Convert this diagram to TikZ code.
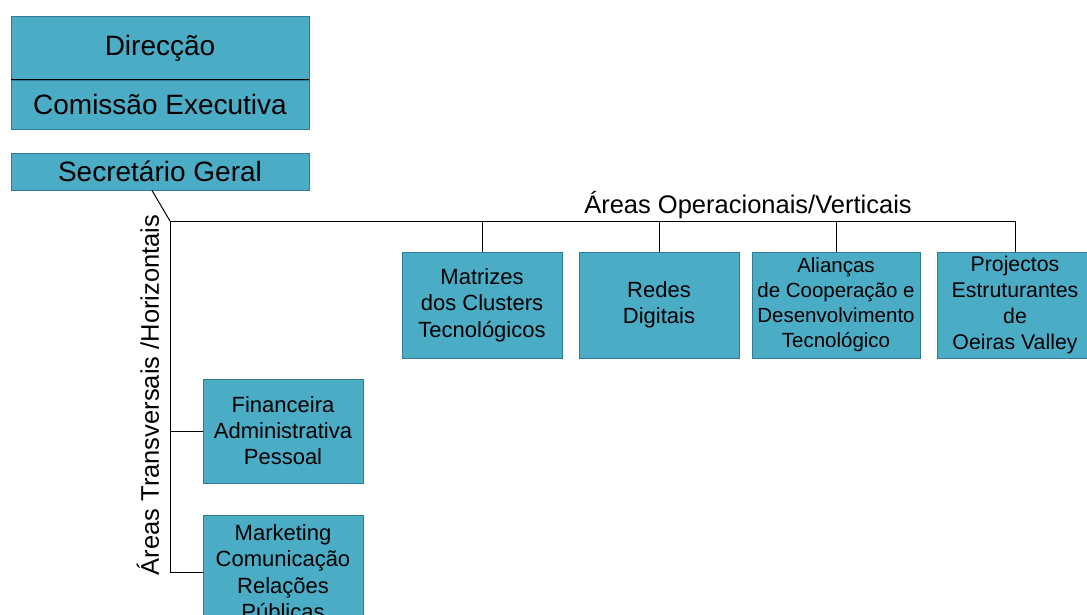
\documentclass[tikz,border=0pt]{standalone}
\usepackage{fontspec}
\setmainfont{Liberation Sans}
\definecolor{boxfill}{HTML}{4BACC6}
\definecolor{boxline}{HTML}{2E7D92}
\begin{document}
\begin{tikzpicture}[x=1pt,y=-1pt,
  orgbox/.style={draw=boxline,fill=boxfill,line width=0.9pt,inner sep=0pt,align=center,text=black},
  conn/.style={draw=black,line width=1pt}]
\useasboundingbox (0,0) rectangle (1087,614);
\clip (0,0) rectangle (1087,614);
% top boxes
\node[orgbox,minimum width=298,minimum height=64,font=\fontsize{28}{32}\selectfont] (dir) at (160,48) {Direcção};
\node[orgbox,minimum width=298,minimum height=49,font=\fontsize{28}{32}\selectfont] (com) at (160,104.5) {Comissão Executiva};
\draw[line width=1.8pt,black] (com.north west) -- (com.north east);
\node[orgbox,minimum width=298,minimum height=37,font=\fontsize{28}{32}\selectfont] (sg) at (160,171.5) {Secretário Geral};
% operational boxes
\node[orgbox,minimum width=160,minimum height=106,font=\fontsize{22}{26.5}\selectfont] (mat) at (482,305) {Matrizes\\dos Clusters\\Tecnológicos};
\node[orgbox,minimum width=160,minimum height=106,font=\fontsize{22}{26.5}\selectfont] (red) at (659,305) {Redes\\Digitais};
\node[orgbox,minimum width=168,minimum height=106,font=\fontsize{20.5}{25}\selectfont] (ali) at (836,305) {Alianças\\de Cooperação e\\Desenvolvimento\\Tecnológico};
\node[orgbox,minimum width=156,minimum height=106,font=\fontsize{21.3}{26.3}\selectfont] (pro) at (1015,305) {Projectos\\Estruturantes\\de\\Oeiras Valley};
% transversal boxes
\node[orgbox,minimum width=160,minimum height=104,font=\fontsize{22}{26}\selectfont] (fin) at (283,431) {Financeira\\Administrativa\\Pessoal};
\node[orgbox,minimum width=160,minimum height=114,font=\fontsize{22}{26.3}\selectfont] (mkt) at (283,572) {Marketing\\Comunicação\\Relações\\Públicas};
% labels
\node[font=\fontsize{25.5}{30}\selectfont,inner sep=0pt] (oplab) at (748,205) {Áreas Operacionais/Verticais};
\node[font=\fontsize{25.5}{30}\selectfont,inner sep=0pt,rotate=90] (trlab) at (148,395) {Áreas Transversais /Horizontais};
% connectors
\coordinate (j) at (170,221);
\draw[conn] ([xshift=-8pt]sg.south) -- (j);
\draw[conn] (j) -- (j -| pro.north) -- (pro.north);
\draw[conn] (mat.north) -- (mat.north |- j);
\draw[conn] (red.north) -- (red.north |- j);
\draw[conn] (ali.north) -- (ali.north |- j);
\draw[conn] (j) |- (mkt.west);
\draw[conn] (fin.west) -- (fin.west -| j);
\end{tikzpicture}
\end{document}
